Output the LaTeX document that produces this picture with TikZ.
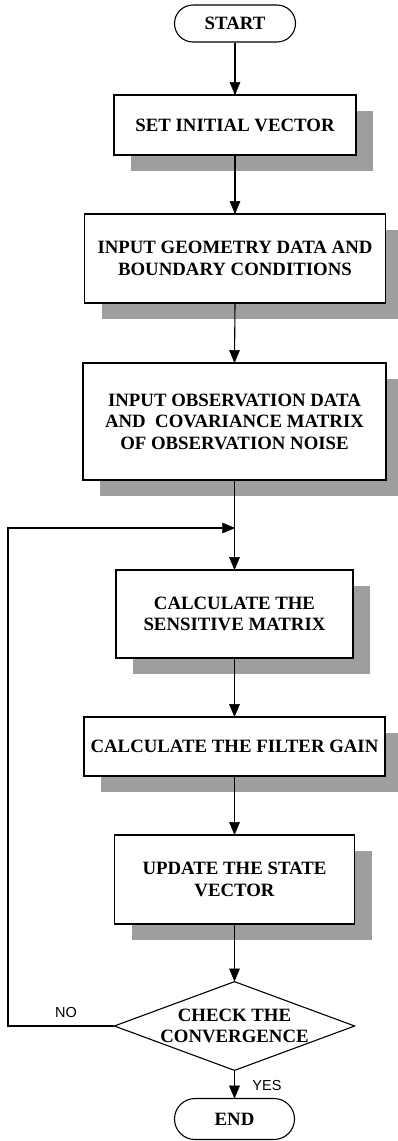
\documentclass[tikz,border=0pt]{standalone}
\usepackage{fontspec}
\setmainfont{Liberation Serif}
\newfontfamily\labelfont{Liberation Sans}
\usetikzlibrary{shapes.geometric,shapes.misc,shadows}
\tikzset{
  txt/.style={font=\fontsize{18.8}{21.5}\selectfont\bfseries, align=center, inner sep=0pt},
  procbox/.style={txt, draw, line width=1.3pt, fill=white, rectangle,
    drop shadow={shadow xshift=17pt, shadow yshift=-16pt, fill=black!38, opacity=1}},
  term/.style={txt, draw, line width=1.1pt, fill=white, rounded rectangle},
  decision/.style={txt, draw, line width=1.1pt, fill=white, diamond, inner sep=0pt},
  conn/.style={line width=1.1pt, draw=black},
  tipfill/.style={fill=black, draw=black, line width=0.5pt, line join=miter},
  lbl/.style={font=\labelfont\fontsize{14.5}{16}\selectfont, inner sep=0pt}
}
\newcommand\mydowntip[1]{\filldraw[tipfill] (#1) -- ++(-5,-12) -- ++(10,0) -- cycle;}
\newcommand\myrighttip[1]{\filldraw[tipfill] (#1) -- ++(-12,-5) -- ++(0,10) -- cycle;}
\begin{document}
\begin{tikzpicture}[x=1pt,y=-1pt]
\useasboundingbox (0,0) rectangle (398,1141);

\node[term, minimum width=121pt, minimum height=37pt] (start) at (235,23.5) {START};
\node[procbox, minimum width=242pt, minimum height=60pt] (b1) at (235,125) {SET INITIAL VECTOR};
\node[procbox, minimum width=301pt, minimum height=89pt] (b2) at (235,258.5) {INPUT GEOMETRY DATA AND\\BOUNDARY CONDITIONS};
\node[procbox, minimum width=303pt, minimum height=117pt] (b3) at (234.5,421.5) {INPUT OBSERVATION DATA\\AND\ \ COVARIANCE MATRIX\\OF OBSERVATION NOISE};
\coordinate (j) at (234.5,528);
\node[procbox, minimum width=237pt, minimum height=88pt] (b4) at (234.5,614) {CALCULATE THE\\SENSITIVE MATRIX};
\node[procbox, minimum width=301pt, minimum height=59pt] (b5) at (234.5,746.5) {CALCULATE THE FILTER GAIN};
\node[procbox, minimum width=240pt, minimum height=89pt] (b6) at (234.5,879.5) {UPDATE THE STATE\\VECTOR};
\node[decision, minimum width=238pt, minimum height=88pt, aspect=2.7] (dec) at (234.5,1026) {CHECK THE\\CONVERGENCE};
\node[term, minimum width=120pt, minimum height=41pt] (fin) at (234.5,1119) {END};

\coordinate (lb) at (8,1026);
\coordinate (lt) at (8,528);

\draw[conn] (start.south) -- (b1.north);
\draw[conn] (b1.south) -- (b2.north);
\draw[conn] (b2.south) -- (b3.north);
\draw[conn] (b3.south) -- (b4.north);
\draw[conn] (b4.south) -- (b5.north);
\draw[conn] (b5.south) -- (b6.north);
\draw[conn] (b6.south) -- (dec.north);
\draw[conn] (dec.south) -- (fin.north);
\draw[conn] (dec.west) -- (lb) -- (lt) -- (j);

\mydowntip{b1.north}
\mydowntip{b2.north}
\mydowntip{b3.north}
\mydowntip{b4.north}
\mydowntip{b5.north}
\mydowntip{b6.north}
\mydowntip{dec.north}
\mydowntip{fin.north}
\myrighttip{j}

\node[lbl] (no) at (66,1012) {NO};
\node[lbl] (yes) at (267,1085) {YES};
\end{tikzpicture}
\end{document}
